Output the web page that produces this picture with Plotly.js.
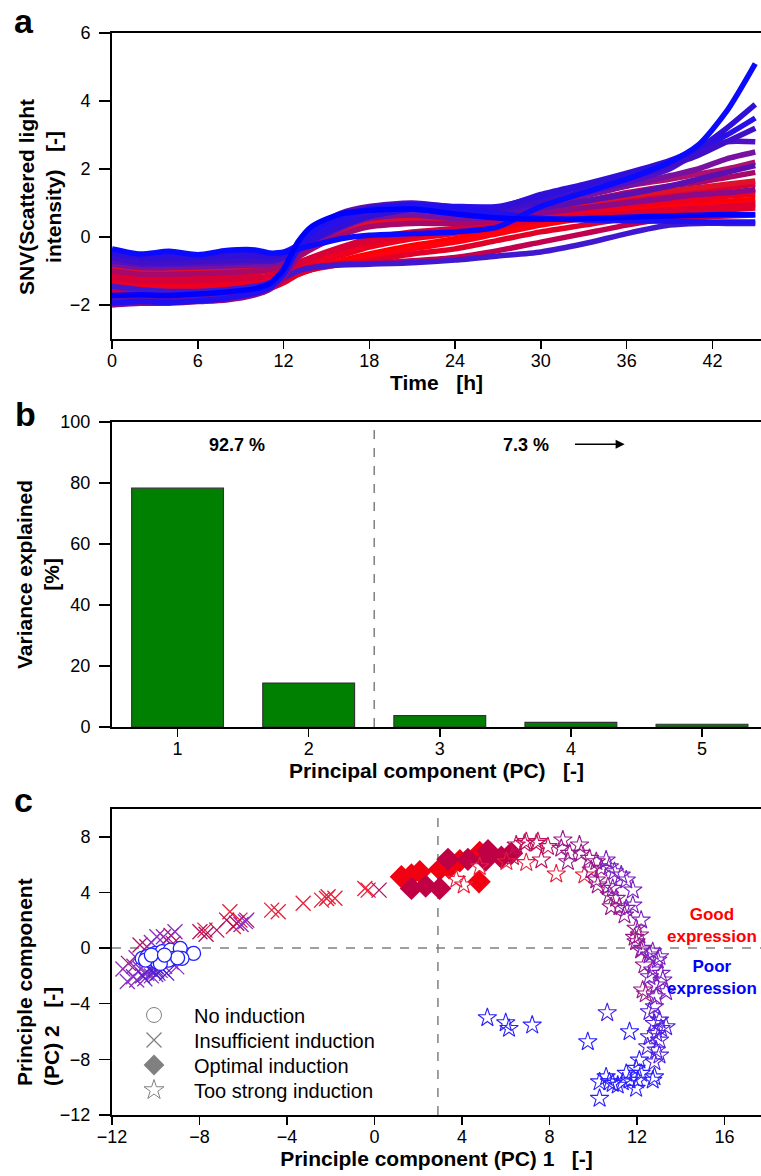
<!DOCTYPE html>
<html>
<head>
<meta charset="utf-8">
<script src="https://cdn.plot.ly/plotly-3.0.1.min.js"></script>
<style>html,body{margin:0;padding:0;background:#fff;}#chart{width:761px;height:1176px;}</style>
</head>
<body>
<div id="chart"></div>
<script>
// ---------- Panel a: SNV scattered light curves ----------
const timeH = [0,2,4,6,8,10,11,12,13,14,16,18,21,24,27,30,33,36,39,41,43,45];
const snvT = [-1.55,-1.60,-1.65,-1.62,-1.58,-1.50,-1.42,-1.30,-1.10,-0.95,-0.70,-0.50,-0.25,-0.05,0.20,0.45,0.65,0.80,0.95,1.00,1.05,1.10];
const snvK = [-1.50,-1.55,-1.58,-1.55,-1.50,-1.42,-1.35,-1.20,-1.05,-0.95,-0.80,-0.60,-0.35,-0.15,0.10,0.35,0.55,0.70,0.85,0.90,0.95,1.00];
const snvV = [-1.70,-1.75,-1.80,-1.78,-1.72,-1.62,-1.52,-1.35,-1.10,-0.95,-0.78,-0.70,-0.50,-0.35,-0.10,0.15,0.35,0.55,0.70,0.75,0.80,0.85];
const snvJ = [-1.30,-1.40,-1.40,-1.38,-1.32,-1.25,-1.20,-1.10,-0.95,-0.80,-0.55,-0.30,-0.05,0.10,0.30,0.55,0.75,0.90,1.05,1.10,1.20,1.25];
const snvQ = [-1.35,-1.45,-1.48,-1.45,-1.40,-1.32,-1.28,-1.15,-0.90,-0.70,-0.45,-0.20,0.05,0.20,0.35,0.60,0.80,1.00,1.15,1.20,1.30,1.35];
const snvL = [-1.10,-1.20,-1.20,-1.18,-1.12,-1.05,-1.00,-0.90,-0.75,-0.60,-0.35,-0.15,0.05,0.20,0.35,0.50,0.60,0.70,0.80,0.85,0.90,0.95];
const snvI = [-1.20,-1.30,-1.30,-1.28,-1.25,-1.20,-1.15,-1.00,-0.80,-0.60,-0.30,-0.05,0.15,0.25,0.40,0.70,0.90,1.10,1.25,1.35,1.45,1.55];
const snvP = [-0.90,-1.00,-1.00,-0.98,-0.95,-0.90,-0.88,-0.80,-0.55,-0.30,0.10,0.40,0.55,0.50,0.55,0.80,1.00,1.20,1.35,1.45,1.55,1.65];
const snvN = [-1.60,-1.70,-1.75,-1.72,-1.65,-1.55,-1.45,-1.25,-1.00,-0.88,-0.80,-0.78,-0.70,-0.60,-0.40,-0.15,0.10,0.35,0.55,0.60,0.62,0.65];
const snvR = [-0.75,-0.85,-0.85,-0.82,-0.80,-0.76,-0.75,-0.65,-0.35,-0.05,0.40,0.70,0.85,0.75,0.70,1.00,1.25,1.50,1.70,1.85,2.00,2.20];
const snvH = [-1.00,-1.10,-1.10,-1.08,-1.05,-1.00,-0.95,-0.85,-0.60,-0.35,0.05,0.30,0.40,0.40,0.50,0.80,1.05,1.30,1.50,1.60,1.75,1.90];
const snvM = [-1.45,-1.55,-1.60,-1.60,-1.55,-1.45,-1.35,-1.20,-1.00,-0.90,-0.82,-0.80,-0.76,-0.68,-0.56,-0.44,-0.20,0.10,0.35,0.40,0.40,0.40];
const snvG = [-0.80,-0.90,-0.90,-0.88,-0.85,-0.82,-0.80,-0.70,-0.45,-0.20,0.25,0.55,0.65,0.55,0.60,0.95,1.20,1.50,1.80,2.00,2.30,2.50];
const snvO = [-2.00,-1.95,-1.95,-1.90,-1.85,-1.70,-1.55,-1.20,-0.55,-0.05,0.45,0.70,0.80,0.70,0.60,0.70,0.85,1.00,1.15,1.25,1.30,1.40];
const snvC = [-1.85,-1.80,-1.82,-1.80,-1.72,-1.58,-1.45,-1.05,-0.30,0.20,0.70,0.90,1.00,0.88,0.75,0.85,1.05,1.25,1.50,1.70,1.90,2.10];
const snvU = [-0.70,-0.80,-0.80,-0.78,-0.76,-0.72,-0.72,-0.62,-0.40,-0.10,0.35,0.70,0.90,0.80,0.75,1.00,1.30,1.60,2.00,2.50,2.80,2.80];
const snvF = [-0.60,-0.75,-0.75,-0.72,-0.70,-0.68,-0.70,-0.60,-0.35,0.00,0.50,0.85,0.95,0.85,0.80,1.05,1.35,1.70,2.10,2.40,2.80,3.20];
const snvS = [-0.45,-0.55,-0.55,-0.55,-0.50,-0.48,-0.50,-0.45,-0.25,0.00,0.45,0.80,0.95,0.90,0.90,1.20,1.50,1.85,2.20,2.60,3.00,3.50];
const snvE = [-0.50,-0.60,-0.62,-0.60,-0.58,-0.55,-0.60,-0.50,-0.30,-0.10,0.30,0.60,0.80,0.70,0.85,1.25,1.55,1.88,2.25,2.60,3.20,3.90];
const snvB = [-1.95,-1.90,-1.92,-1.88,-1.80,-1.65,-1.50,-1.10,-0.35,0.15,0.62,0.82,0.95,0.85,0.70,0.55,0.50,0.48,0.46,0.45,0.44,0.44];
const snvD = [-0.35,-0.50,-0.42,-0.52,-0.40,-0.38,-0.47,-0.45,-0.35,-0.25,-0.05,0.05,0.10,0.15,0.30,0.90,1.30,1.70,2.20,2.70,3.70,5.10];
const snvA = [-1.72,-1.70,-1.72,-1.68,-1.62,-1.52,-1.38,-0.95,-0.15,0.32,0.68,0.78,0.82,0.68,0.56,0.52,0.54,0.58,0.62,0.64,0.66,0.66];
const snvCurves = [snvT,snvK,snvV,snvJ,snvQ,snvL,snvI,snvP,snvN,snvR,snvH,snvM,snvG,snvO,snvC,snvU,snvF,snvS,snvE,snvB,snvD,snvA];
const snvColors = ['#ff0000','#ff0010','#e00028','#f0001e','#f00020','#e00030','#d80038','#e0102a','#c00050','#b01070','#a8086a','#4018d0','#7810a0','#8a0a8a','#5a10b0','#5010c8','#4010c8','#2a10e8','#3010d8','#2010f0','#0a0aff','#0000ff'];

// ---------- Panel b: variance explained ----------
const pcIndex = [1,2,3,4,5];
const varianceExplained = [78.3,14.4,3.7,1.5,0.9];
const cumulativeLabels = ['92.7 %','7.3 %'];

// ---------- Panel c: PCA scores ----------
const noIndX = [-10.62,-10.40,-10.02,-9.71,-9.33,-8.88,-8.27,-8.80,-9.71,-9.94,-9.18,-10.47,-9.41,-9.79,-10.2,-9.0,-9.6];
const noIndY = [-0.74,-0.62,-0.38,-0.26,-0.14,-0.02,-0.38,-0.74,-0.98,-0.98,-0.74,-0.86,-0.86,-1.10,-0.5,-0.7,-0.5];

const insRedX = [-6.61,-4.70,-4.40,-3.26,-2.42,-2.12,-1.81,-2.19,-0.44,-0.29,-7.75,-6.45,-6.15];
const insRedY = [2.61,2.73,2.61,3.22,3.45,3.69,3.58,3.57,4.29,4.17,1.29,1.55,2.01];
const insCrimX = [-7.98,-7.21,-6.30,-5.84,-6.76,-10.72,-10.41,-9.50,-9.20,-11.25,-7.70,0.21,-9.3];
const insCrimY = [1.17,1.29,1.78,2.01,2.01,0.22,0.10,0.58,0.34,-1.10,1.00,4.17,0.9];
const insPurX = [-9.95,-9.65,-9.12,-11.02,-10.87,-10.41,-9.95,-9.04,-10.70,-10.20,-10.00,-9.80,-10.50,-11.30,-11.50,-10.90,-11.00,-9.60,-9.30,-9.40,-10.20,-5.90,-6.10];
const insPurY = [0.81,0.81,1.17,-2.06,-2.30,-1.82,-1.58,-1.35,-1.50,-2.00,-1.90,-1.60,-2.20,-2.40,-1.50,-0.70,-1.30,-1.30,-1.00,-0.40,0.40,1.90,1.70];
const insBlueX = [-10.10,-9.90,-10.30,-10.60,-9.70,-9.50,-10.00];
const insBlueY = [-1.70,-1.80,-1.50,-2.00,-1.50,-1.80,-1.30];

const optRedX = [1.23,1.69,2.07,2.98,3.90,4.78,4.81,3.41];
const optRedY = [5.13,5.25,5.49,5.66,6.28,4.77,6.88,5.78];
const optCrimX = [1.69,2.34,2.98,3.36,4.27,5.19,5.08,5.80,6.26];
const optCrimY = [4.29,4.46,4.29,6.38,6.38,7.00,6.33,6.53,6.81];

const strRedX = [3.74,4.08,4.81,6.94,8.31,9.60,6.03];
const strRedY = [4.94,4.53,5.85,6.14,5.32,5.25,6.21];
const strCrimX = [6.33,6.48,6.94,7.40,6.86,7.47,7.93,7.63];
const strCrimY = [6.57,7.41,7.65,7.53,7.53,7.65,7.29,6.33];
const strMagX = [8.61,8.54,8.92,8.84,9.37,9.45,9.83,10.14,9.91,10.37,10.14,10.21,10.67,10.74,11.05,10.82,11.20,11.43,11.96,12.11,11.89,11.96,12.19,12.34,12.26,12.40];
const strMagY = [7.77,7.17,6.81,6.21,7.41,6.81,6.45,6.21,5.61,5.73,4.89,4.53,4.41,3.81,3.57,2.97,2.97,2.37,1.42,0.94,0.77,0.45,-0.14,-1.22,-3.02,-3.30];
const strPurX = [10.59,10.74,10.97,11.28,11.51,11.81,10.89,11.51,11.81,12.19,12.26,12.72,13.03,12.57,12.95,12.72,13.10,13.18,12.57,12.88,13.33,12.88,12.80];
const strPurY = [6.33,5.85,5.49,5.25,4.89,4.17,4.29,2.85,3.09,2.01,-0.02,-0.26,-0.62,-0.50,-0.86,-1.58,-1.82,-2.30,-2.06,-2.66,-3.14,-3.50,-4.22];
const strVioX = [12.57,13.03,13.33,12.80,12.88,12.57,13.03,12.49,12.88,13.03,12.80,10.64,13.10];
const strVioY = [-4.58,-5.18,-5.66,-5.42,-6.14,-6.38,-6.62,-7.10,-7.34,-7.70,-8.18,-4.65,-5.78];
const strBlueX = [12.11,11.96,12.19,12.04,11.96,11.51,11.66,11.35,11.12,10.74,10.29,10.59,10.89,10.29,12.80,11.66,9.75,12.72,5.16,6.00,6.15,7.21];
const strBlueY = [-8.06,-8.65,-9.01,-9.50,-10.09,-9.01,-9.50,-9.62,-9.86,-9.62,-9.62,-9.26,-9.74,-10.81,-9.26,-6.02,-6.74,-9.50,-5.01,-5.37,-5.78,-5.54];

const legendNames = ['No induction','Insufficient induction','Optimal induction','Too strong induction'];

// ---------- build ----------
const FONT = 'Arial, "Liberation Sans", Helvetica, sans-serif';
const traces = [];
snvCurves.forEach((c, i) => {
  traces.push({x: timeH, y: c, type: 'scatter', mode: 'lines', xaxis: 'x', yaxis: 'y',
    line: {color: snvColors[i], width: 5.5, shape: 'spline', smoothing: 0.7}, showlegend: false, hoverinfo: 'skip'});
});
traces.push({x: pcIndex, y: varianceExplained, type: 'bar', xaxis: 'x2', yaxis: 'y2', width: 0.7,
  marker: {color: '#008000', line: {color: '#333333', width: 1.2}}, showlegend: false});

function sc(x, y, symbol, color, size, fill, lw) {
  return {x: x, y: y, type: 'scatter', mode: 'markers', xaxis: 'x3', yaxis: 'y3', showlegend: false, cliponaxis: true,
    marker: {symbol: symbol, size: size, color: fill || color, line: {color: color, width: lw}}};
}
traces.push(sc(insRedX, insRedY, 'x-thin-open', '#e8203a', 15, null, 1.3));
traces.push(sc(insCrimX, insCrimY, 'x-thin-open', '#b01060', 15, null, 1.3));
traces.push(sc(insPurX, insPurY, 'x-thin-open', '#8a30c0', 15, null, 1.3));
traces.push(sc(insBlueX, insBlueY, 'x-thin-open', '#5020d0', 15, null, 1.3));
traces.push(sc(noIndX, noIndY, 'circle', '#2020ff', 14, '#ffffff', 1.3));
traces.push(sc(optRedX, optRedY, 'diamond', '#f00010', 18, '#f00010', 0));
traces.push(sc(optCrimX, optCrimY, 'diamond', '#c00045', 18, '#c00045', 0));
traces.push(sc(strRedX, strRedY, 'star-open', '#e8203a', 14, null, 1.1));
traces.push(sc(strCrimX, strCrimY, 'star-open', '#c0105a', 14, null, 1.1));
traces.push(sc(strMagX, strMagY, 'star-open', '#9a1a8a', 14, null, 1.1));
traces.push(sc(strPurX, strPurY, 'star-open', '#7a20c0', 14, null, 1.1));
traces.push(sc(strVioX, strVioY, 'star-open', '#5020e0', 14, null, 1.1));
traces.push(sc(strBlueX, strBlueY, 'star-open', '#2a20ff', 14, null, 1.1));

// legend-only entries (gray symbols), one small legend per row for exact spacing
const legSym = [['circle-open', 15, 1], ['x-thin-open', 15, 1.3], ['diamond', 16, 0], ['star-open', 15, 1]];
const legIds = ['legend', 'legend2', 'legend3', 'legend4'];
const legRowY = [1015, 1040, 1065, 1090];
legendNames.forEach((n, i) => {
  traces.push({x: [null], y: [null], type: 'scatter', mode: 'markers', xaxis: 'x3', yaxis: 'y3', name: n, showlegend: true,
    legend: legIds[i],
    marker: {symbol: legSym[i][0], size: legSym[i][1], color: '#808080', line: {color: '#808080', width: legSym[i][2]}}});
});

const axBase = {showline: true, linecolor: '#000', linewidth: 2, ticks: 'outside', tickwidth: 1.5, tickcolor: '#000',
  showgrid: false, zeroline: false, automargin: false, tickfont: {family: FONT, size: 18, color: '#000'}};
const xBase = Object.assign({}, axBase, {ticklen: 8, ticklabelstandoff: -4, mirror: true});
const yBase = Object.assign({}, axBase, {ticklen: 11, ticklabelstandoff: 5});
const tFont = {family: FONT, size: 21, color: '#000'};
const XD = [112/761, 1];
const dom = (top, bot) => [1 - bot/1176, 1 - top/1176];
const px = (x) => x / 761;
const py = (y) => 1 - y / 1176;

const layout = {
  width: 761, height: 1176, margin: {l: 0, r: 0, t: 0, b: 0}, paper_bgcolor: '#fff', plot_bgcolor: '#fff',
  font: {family: FONT, color: '#000'}, showlegend: true,
  xaxis: Object.assign({}, xBase, {domain: XD, anchor: 'y', range: [0, 45.4], tickvals: [0,6,12,18,24,30,36,42],
    title: {text: '<b>Time   [h]</b>', font: tFont, standoff: 2}}),
  yaxis: Object.assign({}, yBase, {domain: dom(33, 339), anchor: 'x', range: [-3, 6], tickvals: [-2,0,2,4,6]}),
  xaxis2: Object.assign({}, xBase, {domain: XD, anchor: 'y2', range: [0.5, 5.45], tickvals: pcIndex,
    title: {text: '<b>Principal component (PC)   [-]</b>', font: tFont, standoff: 2}}),
  yaxis2: Object.assign({}, yBase, {domain: dom(422, 727), anchor: 'x2', range: [0, 100], tickvals: [0,20,40,60,80,100]}),
  xaxis3: Object.assign({}, xBase, {domain: XD, anchor: 'y3', range: [-12, 17.67], tickvals: [-12,-8,-4,0,4,8,12,16],
    title: {text: '<b>Principle component (PC) 1   [-]</b>', font: tFont, standoff: 2}}),
  yaxis3: Object.assign({}, yBase, {domain: dom(809, 1115), anchor: 'x3', range: [-12, 10], tickvals: [-12,-8,-4,0,4,8]}),
  shapes: [
    {type: 'line', xref: 'x2', yref: 'y2', x0: 2.5, x1: 2.5, y0: 0, y1: 100, layer: 'below', line: {color: '#808080', width: 1.5, dash: 'dash'}},
    {type: 'line', xref: 'x3', yref: 'y3', x0: -12, x1: 17.67, y0: 0, y1: 0, layer: 'below', line: {color: '#808080', width: 1.5, dash: 'dash'}},
    {type: 'line', xref: 'x3', yref: 'y3', x0: 2.9, x1: 2.9, y0: -12, y1: 10, layer: 'below', line: {color: '#808080', width: 1.5, dash: 'dash'}}
  ],
  annotations: [
    {text: '<b>a</b>', xref: 'paper', yref: 'paper', x: px(24), y: 1, xanchor: 'center', yanchor: 'top', showarrow: false, font: {family: FONT, size: 34, color: '#000'}},
    {text: '<b>b</b>', xref: 'paper', yref: 'paper', x: px(25), y: py(414), xanchor: 'center', yanchor: 'middle', showarrow: false, font: {family: FONT, size: 34, color: '#000'}},
    {text: '<b>c</b>', xref: 'paper', yref: 'paper', x: px(24), y: py(800), xanchor: 'center', yanchor: 'middle', showarrow: false, font: {family: FONT, size: 34, color: '#000'}},
    {text: '<b>SNV(Scattered light<br>intensity)   [-]</b>', xref: 'paper', yref: 'paper', x: px(40), y: py(197), textangle: -90,
      xanchor: 'center', yanchor: 'middle', align: 'center', showarrow: false, font: tFont},
    {text: '<b>Variance explained<br>[%]</b>', xref: 'paper', yref: 'paper', x: px(38), y: py(575), textangle: -90,
      xanchor: 'center', yanchor: 'middle', align: 'center', showarrow: false, font: tFont},
    {text: '<b>Principle component<br>(PC) 2   [-]</b>', xref: 'paper', yref: 'paper', x: px(38), y: py(982), textangle: -90,
      xanchor: 'center', yanchor: 'middle', align: 'left', showarrow: false, font: tFont},
    {text: '<b>' + cumulativeLabels[0] + '</b>', xref: 'x2', yref: 'y2', x: 1.45, y: 92.5, showarrow: false, font: {family: FONT, size: 18, color: '#000'}},
    {text: '<b>' + cumulativeLabels[1] + '</b>', xref: 'x2', yref: 'y2', x: 3.66, y: 92.5, showarrow: false, font: {family: FONT, size: 18, color: '#000'}},
    {text: '', xref: 'x2', yref: 'y2', axref: 'x2', ayref: 'y2', x: 4.41, y: 92.7, ax: 4.02, ay: 92.7, showarrow: true,
      arrowhead: 2, arrowsize: 1.2, arrowwidth: 1.5, arrowcolor: '#000'},
    {text: '<b>Good<br>expression</b>', xref: 'x3', yref: 'y3', x: 17.58, y: 1.6, xanchor: 'right', showarrow: false, align: 'center',
      font: {family: FONT, size: 17, color: '#ff0000'}},
    {text: '<b>Poor<br>expression</b>', xref: 'x3', yref: 'y3', x: 17.58, y: -2.1, xanchor: 'right', showarrow: false, align: 'center',
      font: {family: FONT, size: 17, color: '#0000ff'}}
  ]
};
legIds.forEach((id, i) => {
  layout[id] = {x: px(114), y: py(legRowY[i]), xanchor: 'left', yanchor: 'middle', bgcolor: 'rgba(0,0,0,0)',
    font: {family: FONT, size: 20, color: '#000'}, itemsizing: 'trace', itemwidth: 70};
});

Plotly.newPlot('chart', traces, layout, {displayModeBar: false, staticPlot: true});
</script>
</body>
</html>
